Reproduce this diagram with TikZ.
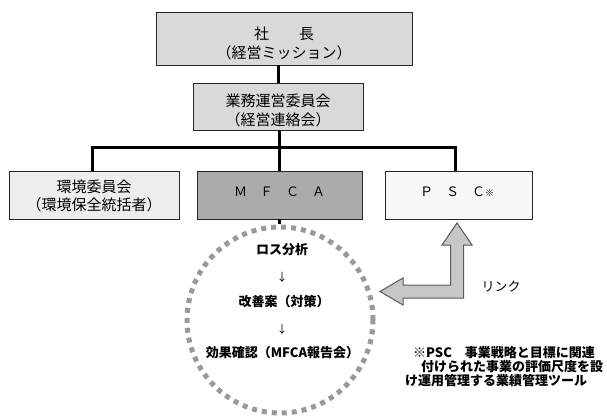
\documentclass[tikz,border=0pt]{standalone}
\usepackage{fontspec}
\newfontfamily\jp{Noto Sans CJK JP}
\begin{document}
\begin{tikzpicture}[x=1pt,y=-1pt,
  box/.style={draw=black!85, line width=1pt, inner sep=0pt, outer sep=0pt},
  lbl/.style={font=\jp\fontsize{15}{19}\selectfont, align=center, inner sep=0pt},
  boldtxt/.style={font=\jp\bfseries\fontsize{13}{14}\selectfont, inner sep=0pt},
  arrtxt/.style={font=\jp\fontsize{11}{11}\selectfont, inner sep=0pt},
  conn/.style={line width=3pt, black},
  ring/.style={circle, draw=black!40, line width=5pt, dash pattern=on 5pt off 5pt, inner sep=0pt, outer sep=0pt, minimum size=186pt},
  blockarrow/.style={fill=black!22, draw=black!65, line width=1pt, line join=miter}
]
\useasboundingbox (0,0) rectangle (607,416);
\fill[white] (0,0) rectangle (607,416);

% boxes
\node[box, fill=black!15, minimum width=256pt, minimum height=53pt] (pres) at (284,38.5) {};
\node[box, fill=black!15, minimum width=170pt, minimum height=47pt] (board) at (278,106.5) {};
\node[box, fill=black!7, minimum width=170pt, minimum height=48pt] (env) at (94,195) {};
\node[box, fill=black!33, minimum width=165pt, minimum height=48pt] (mfca) at (279.5,195) {};
\node[box, fill=black!3, minimum width=147pt, minimum height=48pt] (psc) at (458.5,195) {};

% box labels
\node[lbl] (presT) at (284,43.5) {社　　長\\（経営ミッション）};
\node[lbl] (boardT) at (278,110) {業務運営委員会\\（経営連絡会）};
\node[lbl, font=\jp\fontsize{15}{18}\selectfont] (envT) at (94,196) {環境委員会\\（環境保全統括者）};
\node[lbl, font=\jp\fontsize{13}{13}\selectfont] (mfcaT) at (279.5,192) {Ｍ　Ｆ　Ｃ　Ａ};
\node[lbl, font=\jp\fontsize{13}{13}\selectfont, anchor=west] (pscT) at (420,192) {Ｐ　Ｓ　Ｃ{\fontsize{9}{9}\selectfont ※}};

% cycle ring
\node[ring] (cyc) at (280,320) {};

% connectors
\coordinate (hub) at (279,147);
\draw[conn] (board.north |- pres.south) -- (board.north);
\draw[conn] (hub |- board.south) -- (hub);
\draw[conn] ([xshift=-2pt]env.north) |- (hub) -| ([xshift=-3.5pt]psc.north);
\draw[conn] (hub) -- (hub |- mfca.north);
\draw[conn] (hub |- mfca.south) -- ([yshift=3pt]hub |- cyc.north);

% cycle texts
\node[boldtxt] (t1) at (282,250) {ロス分析};
\node[arrtxt] (a1) at (282,277) {↓};
\node[boldtxt] (t2) at (284,302) {改善案（対策）};
\node[arrtxt] (a2) at (282,329) {↓};
\node[boldtxt] (t3) at (282.5,353) {効果確認（MFCA報告会）};

% link block arrow
\draw[blockarrow] (380,291.5) -- (403,278) -- (403,285) -- (450.5,285) -- (450.5,245)
  -- (442,245) -- (457,223) -- (472,245) -- (463.5,245) -- (463.5,298)
  -- (403,298) -- (403,305) -- cycle;
\node[font=\jp\fontsize{13}{13}\selectfont, inner sep=0pt] (link) at (501,287) {リンク};

% note
\node[boldtxt, anchor=west] (n1) at (413,353) {※PSC　事業戦略と目標に関連};
\node[boldtxt, anchor=west] (n2) at (421,367) {付けられた事業の評価尺度を設};
\node[boldtxt, anchor=west] (n3) at (405,381) {け運用管理する業績管理ツール};
\end{tikzpicture}
\end{document}
